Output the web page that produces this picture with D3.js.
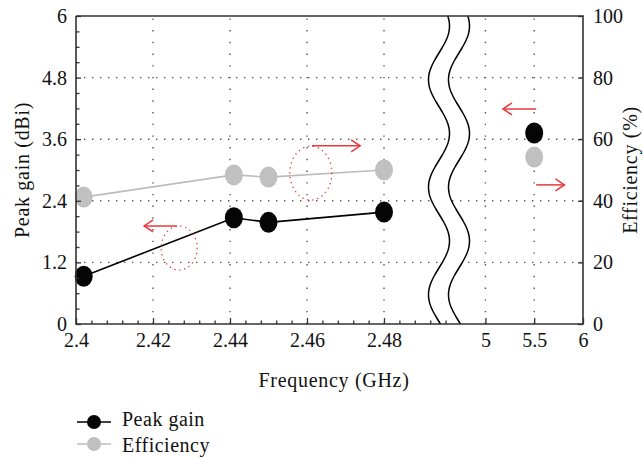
<!DOCTYPE html>
<html>
<head>
<meta charset="utf-8">
<script src="https://cdn.jsdelivr.net/npm/d3@7"></script>
<style>
  body { margin: 0; background: #fff; }
</style>
</head>
<body>
<div id="chart"></div>
<script>
// low band points (2.4 - 2.5 GHz)
const freqLow = [2.402, 2.441, 2.45, 2.48];
const gainLow = [0.93, 2.07, 1.98, 2.18];
const effLow = [41.2, 48.4, 47.7, 50.0];
// high band point
const freqHigh = [5.5];
const gainHigh = [3.72];
const effHigh = [54.2];

const xTicks = [2.4, 2.42, 2.44, 2.46, 2.48, 5, 5.5, 6];
const xTickLabels = ["2.4", "2.42", "2.44", "2.46", "2.48", "5", "5.5", "6"];
const xGrid = [2.42, 2.44, 2.46, 2.48, 5, 5.5];
const gainTicks = [0, 1.2, 2.4, 3.6, 4.8, 6];
const effTicks = [0, 20, 40, 60, 80, 100];

// annotations: dotted ellipses [freq, gain] and arrows [freq0, freq1, gain]
const ellipses = [[2.4268, 1.48, 18, 22], [2.461, 2.94, 21, 27]];
const arrows = [[2.4262, 2.4177, 1.91], [2.4613, 2.4738, 3.47], [5.52, 5.18, 4.19], [5.52, 5.81, 2.71]];

const width = 643, height = 458;
const padL = 76, padR = 583, padT = 16, padB = 324;
const serif = "'Liberation Serif', 'Times New Roman', Times, Tinos, 'Noto Serif', 'DejaVu Serif', serif";
const fs = 20;

const svg = d3.select("#chart").append("svg")
  .attr("width", width).attr("height", height)
  .attr("font-family", serif);

const x = d3.scaleLinear().domain([2.4, 2.5, 4.75, 6]).range([padL, 461, 461, padR]);
const y = d3.scaleLinear().domain([0, 6]).range([padB, padT]);
const yEff = d3.scaleLinear().domain([0, 100]).range([padB, padT]);

// grid
svg.append("g").selectAll("line").data(gainTicks.slice(1, -1)).enter().append("line")
  .attr("x1", padL).attr("x2", padR)
  .attr("y1", d => y(d)).attr("y2", d => y(d))
  .attr("stroke", "#555").attr("stroke-width", 1.4).attr("stroke-dasharray", "1.4,6.6");
svg.append("g").selectAll("line").data(xGrid).enter().append("line")
  .attr("x1", d => x(d)).attr("x2", d => x(d))
  .attr("y1", padB).attr("y2", padT)
  .attr("stroke", "#555").attr("stroke-width", 1.4).attr("stroke-dasharray", "1.4,10.3");

// series lines
const lowIdx = d3.range(freqLow.length);
const line = d3.line();
svg.append("path")
  .attr("d", line(lowIdx.map(i => [x(freqLow[i]), yEff(effLow[i])])))
  .attr("fill", "none").attr("stroke", "#bcbcbc").attr("stroke-width", 1.6);
svg.append("path")
  .attr("d", line(lowIdx.map(i => [x(freqLow[i]), y(gainLow[i])])))
  .attr("fill", "none").attr("stroke", "#000").attr("stroke-width", 1.6);

// markers
const effPts = freqLow.map((f, i) => [f, effLow[i]]).concat(freqHigh.map((f, i) => [f, effHigh[i]]));
const gainPts = freqLow.map((f, i) => [f, gainLow[i]]).concat(freqHigh.map((f, i) => [f, gainHigh[i]]));
svg.append("g").selectAll("ellipse").data(effPts).enter().append("ellipse")
  .attr("cx", d => x(d[0])).attr("cy", d => yEff(d[1]))
  .attr("rx", 9).attr("ry", 10.5).attr("fill", "#c0c0c0");
svg.append("g").selectAll("ellipse").data(gainPts).enter().append("ellipse")
  .attr("cx", d => x(d[0])).attr("cy", d => y(d[1]))
  .attr("rx", 9).attr("ry", 10.5).attr("fill", "#050505");

// annotations
svg.append("g").selectAll("ellipse").data(ellipses).enter().append("ellipse")
  .attr("cx", d => x(d[0])).attr("cy", d => y(d[1]))
  .attr("rx", d => d[2]).attr("ry", d => d[3])
  .attr("fill", "none").attr("stroke", "#e8383d").attr("stroke-width", 1.3)
  .attr("stroke-dasharray", "1.3,3.7");
const arrowG = svg.append("g").attr("stroke", "#e8383d").attr("stroke-width", 1.5).attr("fill", "none");
arrows.forEach(a => {
  const x0 = x(a[0]), x1 = x(a[1]), yy = y(a[2]);
  const dir = Math.sign(x1 - x0);
  arrowG.append("line").attr("x1", x0).attr("x2", x1).attr("y1", yy).attr("y2", yy);
  arrowG.append("path")
    .attr("d", `M${x1 - dir * 9},${yy - 6}L${x1},${yy}L${x1 - dir * 9},${yy + 6}`);
});

// axis break (two wavy lines with white band between)
const period = 107.5, amp = 10.5, gap = 20;
const wx = x(2.5) - 22;
const ys = d3.range(padT, padB + 0.5, 1);
const wave = (yy, off) => wx + off + amp * Math.cos(2 * Math.PI * (yy - 26) / period);
const band = ys.map(yy => [wave(yy, 0), yy]).concat(ys.slice().reverse().map(yy => [wave(yy, gap), yy]));
svg.append("path").attr("d", line(band) + "Z").attr("fill", "#fff");
[0, gap].forEach(off => {
  svg.append("path").attr("d", line(ys.map(yy => [wave(yy, off), yy])))
    .attr("fill", "none").attr("stroke", "#000").attr("stroke-width", 1.5);
});

// axes
const tickStyle = g => {
  g.attr("font-family", serif).attr("font-size", fs);
  g.select(".domain").remove();
  g.selectAll(".tick line").attr("stroke", "#333").attr("stroke-width", 1.3);
  g.selectAll("text").attr("fill", "#111");
};
const minorX = d3.range(2.404, 2.4965, 0.004).filter(v => Math.abs(v / 0.02 - Math.round(v / 0.02)) > 0.01);
svg.append("g").attr("transform", `translate(0,${padB})`)
  .call(d3.axisBottom(x).tickValues(minorX).tickSize(-3.5).tickFormat(""))
  .call(tickStyle);
svg.append("g").attr("transform", `translate(0,${padB})`)
  .call(d3.axisBottom(x).tickValues(xTicks).tickSize(-6)
    .tickFormat((d, i) => xTickLabels[i]))
  .call(tickStyle)
  .call(g => g.selectAll("text").attr("y", 23).attr("dy", null));

const minorY = d3.range(0.3, 6, 0.3).filter(v => Math.abs(v / 1.2 - Math.round(v / 1.2)) > 0.01);
svg.append("g").attr("transform", `translate(${padL},0)`)
  .call(d3.axisLeft(y).tickValues(minorY).tickSize(-3.5).tickFormat(""))
  .call(tickStyle);
svg.append("g").attr("transform", `translate(${padL},0)`)
  .call(d3.axisLeft(y).tickValues(gainTicks).tickSize(-5).tickPadding(9).tickFormat(d3.format("")))
  .call(tickStyle);
svg.append("g").attr("transform", `translate(${padR},0)`)
  .call(d3.axisRight(yEff).tickValues(effTicks).tickSize(-5).tickPadding(10))
  .call(tickStyle);

// frame
svg.append("path")
  .attr("d", `M${padL},${padT}V${padB}H${padR}V${padT}H${padL}`)
  .attr("fill", "none").attr("stroke", "#333").attr("stroke-width", 1.6);

// axis titles
const title = sel => sel.attr("text-anchor", "middle").attr("font-family", serif)
  .attr("font-size", fs).attr("letter-spacing", 0.7).attr("fill", "#111");
svg.append("text").attr("x", 334).attr("y", 387)
  .call(title).text("Frequency (GHz)");
svg.append("text").attr("transform", `translate(29,${(padT + padB) / 2}) rotate(-90)`)
  .call(title).text("Peak gain (dBi)");
svg.append("text").attr("transform", `translate(637,${(padT + padB) / 2}) rotate(-90)`)
  .call(title).text("Efficiency (%)");

// legend
const legend = [["Peak gain", "#050505", 422, 426], ["Efficiency", "#c0c0c0", 444, 452]];
const lg = svg.append("g").selectAll("g").data(legend).enter().append("g");
lg.append("line").attr("x1", 77).attr("x2", 111).attr("y1", d => d[2]).attr("y2", d => d[2])
  .attr("stroke", d => d[1] === "#050505" ? "#000" : "#bcbcbc").attr("stroke-width", 1.5);
lg.append("ellipse").attr("cx", 94).attr("cy", d => d[2]).attr("rx", 7).attr("ry", 7)
  .attr("fill", d => d[1]);
lg.append("text").attr("x", 122).attr("y", d => d[3])
  .attr("font-family", serif).attr("font-size", fs).attr("letter-spacing", 0.5).attr("fill", "#111")
  .text(d => d[0]);
</script>
</body>
</html>
